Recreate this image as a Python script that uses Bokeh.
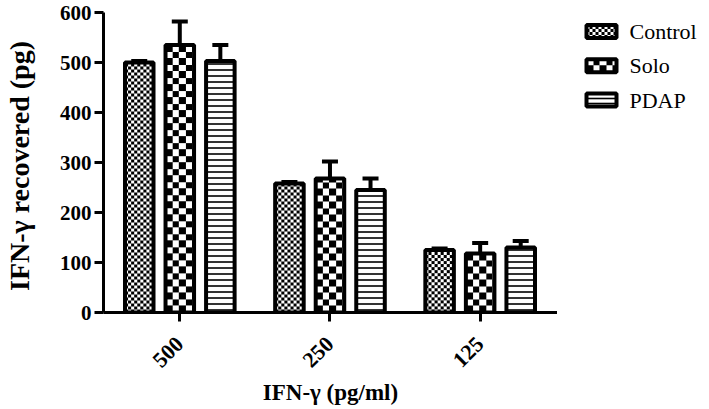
import math
import numpy as np
from bokeh.plotting import figure
from bokeh.layouts import row
from bokeh.models import ColumnDataSource, Whisker, TeeHead, FixedTicker
from bokeh.core.properties import value
from bokeh.embed import file_html
from bokeh.resources import INLINE

# ---- data ----
groups = ["500", "250", "125"]
series = ["Control", "Solo", "PDAP"]
control = [500, 258, 125]
control_err = [3, 3, 3]
solo = [535, 268, 118]
solo_err = [47, 34, 21]
pdap = [503, 245, 130]
pdap_err = [32, 23, 13]
y_ticks = [0, 100, 200, 300, 400, 500, 600]

SERIF = "Liberation Serif"

# ---- layout constants ----
TOTAL_W = 693
X0, X1 = -0.508, 2.515
Y0, Y1 = 0, 600
B_LEFT, B_RIGHT, B_TOP, B_BOTTOM = 96, 0, 12, 95
FRAME_W, FRAME_H = 454, 300
BAR_W = 0.19
OFFSETS = [-0.27, 0.0, 0.27]
PX_X = FRAME_W / (X1 - X0)
PX_Y = FRAME_H / (Y1 - Y0)

BLACK = np.uint32(0xFF000000)
WHITE = np.uint32(0xFFFFFFFF)


def checker(rows, cols, s):
    r = np.arange(rows)[:, None]
    c = np.arange(cols)[None, :]
    mask = ((np.floor(r / s) + np.floor(c / s)) % 2 == 0)
    return np.where(mask, BLACK, WHITE).astype(np.uint32)


p = figure(frame_width=FRAME_W, frame_height=FRAME_H,
           x_range=(X0, X1), y_range=(Y0, Y1),
           output_backend="svg", toolbar_location=None,
           min_border_left=B_LEFT, min_border_right=B_RIGHT,
           min_border_top=B_TOP, min_border_bottom=B_BOTTOM)
p.xgrid.visible = False
p.ygrid.visible = False
p.outline_line_color = None

xpos = np.arange(len(groups))
vals = [control, solo, pdap]
errs = [control_err, solo_err, pdap_err]
check_size = [3, 6.5, None]

for name, v, e, off, cs in zip(series, vals, errs, OFFSETS, check_size):
    v = np.array(v, dtype=float)
    e = np.array(e, dtype=float)
    xc = xpos + off
    src = ColumnDataSource(dict(x=xc, top=v, upper=v + e))
    p.add_layout(Whisker(source=src, base="x", lower="top", upper="upper",
                         line_width=4, line_color="black",
                         upper_head=TeeHead(size=16, line_width=4, line_color="black"),
                         lower_head=None, level="underlay"))
    if cs is not None:
        cols_ = max(1, int(round(BAR_W * PX_X)))
        imgs = [checker(max(1, int(round(val * PX_Y))), cols_, cs) for val in v]
        p.image_rgba(image=imgs, x=list(xc - BAR_W / 2), y=[0] * len(v),
                     dw=[BAR_W] * len(v), dh=list(v))
        p.vbar(x="x", top="top", width=BAR_W, bottom=0, source=src,
               fill_color=None, line_color="black", line_width=4)
    else:
        p.vbar(x="x", top="top", width=BAR_W, bottom=0, source=src,
               fill_color="white", line_color="black", line_width=4,
               hatch_pattern="horizontal_line", hatch_scale=6, hatch_weight=1.6,
               hatch_color="black")

# axes
for ax in (p.xaxis[0], p.yaxis[0]):
    ax.axis_line_width = 3
    ax.major_tick_line_width = 3
    ax.major_tick_out = 9
    ax.major_tick_in = 0
    ax.minor_tick_line_color = None
    ax.major_label_text_font = SERIF
    ax.major_label_text_font_style = "bold"
    ax.major_label_text_color = "black"
    ax.axis_label_text_font = SERIF
    ax.axis_label_text_font_style = "bold"
    ax.axis_label_text_color = "black"

p.yaxis.ticker = FixedTicker(ticks=y_ticks)
p.yaxis.major_label_text_font_size = "21px"
p.yaxis.major_label_standoff = 3
p.yaxis.axis_label = "IFN-\u03b3  recovered (pg)"
p.yaxis.axis_label_text_font_size = "28px"
p.yaxis.axis_label_standoff = 22

p.xaxis.ticker = FixedTicker(ticks=list(xpos))
p.xaxis.major_label_overrides = {int(i): g for i, g in zip(xpos, groups)}
p.xaxis.major_label_orientation = math.pi / 4
p.xaxis.major_label_text_font_size = "22px"
p.xaxis.major_label_standoff = 19
p.xaxis.axis_label = "IFN-\u03b3 (pg/ml)"
p.xaxis.axis_label_text_font_size = "23px"
p.xaxis.axis_label_standoff = 3

# ---- legend (separate panel, frame aligned with the plot frame) ----
LW = TOTAL_W - (B_LEFT + FRAME_W + B_RIGHT)
lf = figure(frame_width=LW, frame_height=FRAME_H, x_range=(0, LW), y_range=(0, FRAME_H),
            output_backend="svg", toolbar_location=None,
            min_border_left=0, min_border_right=0,
            min_border_top=B_TOP, min_border_bottom=B_BOTTOM)
lf.axis.visible = False
lf.grid.visible = False
lf.outline_line_color = None

SW_X, SW_W, SW_H = 44, 30, 13
row_y = [FRAME_H - (31 + 34.25 * i - B_TOP) for i in range(len(series))]
for i, (name, cs) in enumerate(zip(series, check_size)):
    yc = row_y[i]
    if cs is not None:
        lf.image_rgba(image=[checker(SW_H, SW_W, cs)], x=SW_X - SW_W / 2,
                      y=yc - SW_H / 2, dw=SW_W, dh=SW_H)
        lf.rect(x=SW_X, y=yc, width=SW_W, height=SW_H, fill_color=None,
                line_color="black", line_width=4)
    else:
        lf.rect(x=SW_X, y=yc, width=SW_W, height=SW_H, fill_color="white",
                line_color="black", line_width=4, hatch_pattern="horizontal_line",
                hatch_scale=5, hatch_weight=1.6, hatch_color="black")

lf.text(x=[72] * len(series), y=row_y, text=series, text_font=value(SERIF),
        text_font_size="22px", text_baseline="middle", text_align="left",
        text_color="black")

layout = row(p, lf)
open("out.html", "w").write(file_html(layout, INLINE))
